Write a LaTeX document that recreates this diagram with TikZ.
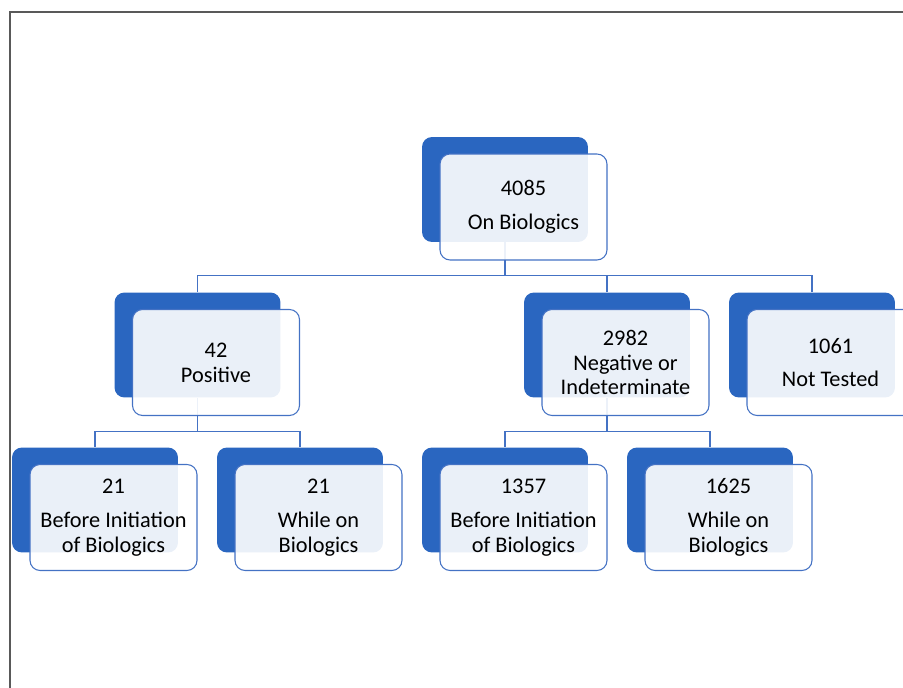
\documentclass[tikz,border=0pt]{standalone}
\usepackage{fontspec}
\setmainfont{Carlito}
\usepackage{tikz}

\definecolor{boxblue}{HTML}{2A66C0}
\definecolor{lineblue}{HTML}{4472C4}

\begin{document}
\begin{tikzpicture}[
		x=0.02cm, y=0.02cm,
		backbox/.style={rectangle, rounded corners=0.2cm, fill=boxblue, minimum width=3.32cm, minimum height=2.1cm},
		frontbox/.style={rectangle, rounded corners=0.2cm, draw=lineblue, line width=0.6pt, fill=white, fill opacity=0.9, text opacity=1, text=black, minimum width=3.34cm, minimum height=2.12cm, align=center, font=\fontsize{12.7}{14.2}\selectfont},
		link/.style={draw=lineblue, line width=0.6pt}
	]
		\clip (0,0) rectangle (903,-688);
		
		% Frame
		\draw[black!65, line width=1.1pt] (10,-688) -- (10,-12) -- (903,-12);
		
		% Back boxes
		\node[backbox] (onbio-b) at (505,-189.5) {};
		\node[backbox] (pos-b) at (197.5,-345) {};
		\node[backbox] (neg-b) at (607,-345) {};
		\node[backbox] (nottest-b) at (812,-345) {};
		\node[backbox] (posbefore-b) at (95,-500) {};
		\node[backbox] (poswhile-b) at (300,-500) {};
		\node[backbox] (negbefore-b) at (505,-500) {};
		\node[backbox] (negwhile-b) at (710,-500) {};
		
		% Connectors
		\draw[link] (onbio-b.south) -- ++(0,-33) -| (pos-b.north);
		\draw[link] (onbio-b.south) -- ++(0,-33) -| (neg-b.north);
		\draw[link] (onbio-b.south) -- ++(0,-33) -| (nottest-b.north);
		\draw[link] (pos-b.south) -- ++(0,-34) -| (posbefore-b.north);
		\draw[link] (pos-b.south) -- ++(0,-34) -| (poswhile-b.north);
		\draw[link] (neg-b.south) -- ++(0,-34) -| (negbefore-b.north);
		\draw[link] (neg-b.south) -- ++(0,-34) -| (negwhile-b.north);
		
		% Front boxes
		\node[frontbox] (onbio) at (523.5,-207) {4085\\[5pt]On Biologics};
		\node[frontbox] (pos) at (216,-362.5) {42\\Positive};
		\node[frontbox] (neg) at (625.5,-362.5) {2982\\Negative or\\Indeterminate};
		\node[frontbox] (nottest) at (830.5,-362.5) {1061\\[5pt]Not Tested};
		\node[frontbox] (posbefore) at (113.5,-517.5) {21\\[5pt]Before Initiation\\of Biologics};
		\node[frontbox] (poswhile) at (318.5,-517.5) {21\\[5pt]While on\\Biologics};
		\node[frontbox] (negbefore) at (523.5,-517.5) {1357\\[5pt]Before Initiation\\of Biologics};
		\node[frontbox] (negwhile) at (728.5,-517.5) {1625\\[5pt]While on\\Biologics};
	\end{tikzpicture}
\end{document}
